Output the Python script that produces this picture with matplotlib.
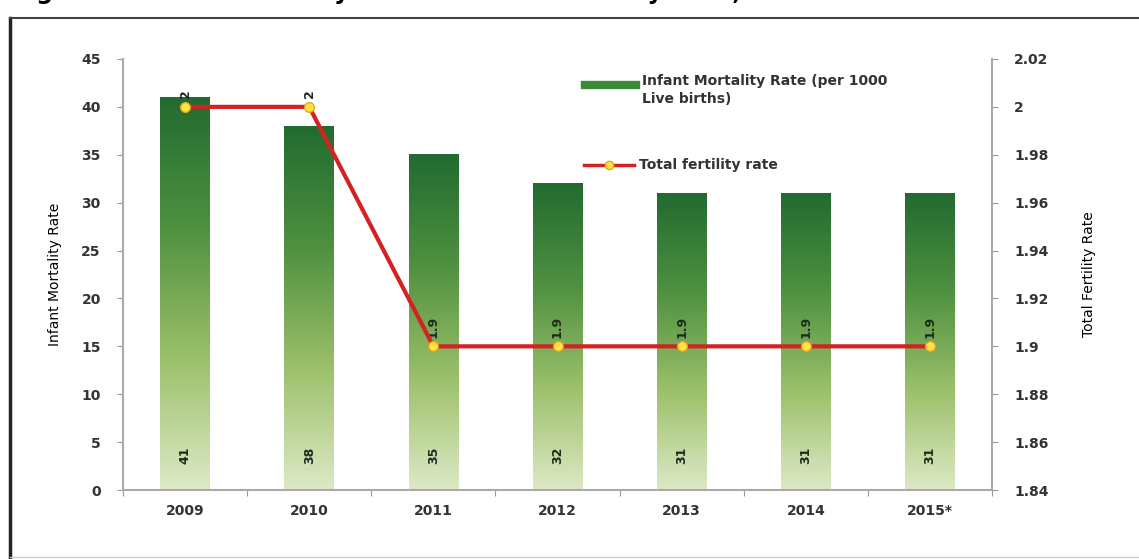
import matplotlib.pyplot as plt
import numpy as np
from matplotlib.colors import LinearSegmentedColormap
from matplotlib.lines import Line2D

# dane
years = ["2009", "2010", "2011", "2012", "2013", "2014", "2015*"]
imr = [41, 38, 35, 32, 31, 31, 31]
tfr = [2, 2, 1.9, 1.9, 1.9, 1.9, 1.9]
tfr_labels = ["2", "2", "1.9", "1.9", "1.9", "1.9", "1.9"]

fig = plt.figure(figsize=(11.39, 5.59), dpi=100)
ax = fig.add_axes([0.108, 0.1234, 0.763, 0.7711])

# gradient dla słupków
cmap = LinearSegmentedColormap.from_list("g", ["#dde9c6", "#9cc06a", "#4f9140", "#226b30"])
grad = np.linspace(0, 1, 256).reshape(-1, 1)
x = np.arange(len(years))
w = 0.4
for i, v in enumerate(imr):
    ax.imshow(grad, cmap=cmap, origin="lower", aspect="auto",
              extent=[x[i] - w / 2, x[i] + w / 2, 0, v], zorder=2)
    ax.text(x[i], 3.6, str(v), rotation=90, ha="center", va="center",
            fontsize=9, fontweight="bold", color="#1e2a1e", zorder=5)

ax.set_xlim(-0.5, len(years) - 0.5)
ax.set_ylim(0, 45)
ax.set_yticks(range(0, 46, 5))
ax.set_xticks(np.arange(-0.5, len(years), 1))
ax.set_xticklabels([])
ax.set_xticks(x, minor=True)
ax.set_xticklabels(years, minor=True, fontsize=10, fontweight="bold", color="#333333")
ax.tick_params(axis="x", which="minor", length=0, pad=10)
ax.tick_params(axis="x", which="major", length=4, color="#999999")
ax.tick_params(axis="y", length=4, color="#999999", labelsize=10, pad=12, labelcolor="#333333")
for t in ax.get_yticklabels():
    t.set_fontweight("bold")
ax.set_ylabel("Infant Mortality Rate", fontsize=10, labelpad=14)
for s in ["top", "right"]:
    ax.spines[s].set_visible(False)
for s in ["left", "bottom"]:
    ax.spines[s].set_color("#aaaaaa")
    ax.spines[s].set_linewidth(1.5)

# druga oś
ax2 = ax.twinx()
ax2.plot(x, tfr, color="#d42222", lw=3, marker="o", markersize=7,
         markerfacecolor="#ffe640", markeredgecolor="#f0a020", markeredgewidth=1, zorder=4)
for i, v in enumerate(tfr):
    ax2.text(x[i], v + 0.0035, tfr_labels[i], rotation=90, ha="center", va="bottom",
             fontsize=9, fontweight="bold", color="#1e2a1e")
ax2.set_ylim(1.84, 2.02)
ax2.set_yticks(np.round(np.arange(1.84, 2.021, 0.02), 2))
ax2.set_yticklabels(["1.84", "1.86", "1.88", "1.9", "1.92", "1.94", "1.96", "1.98", "2", "2.02"])
ax2.tick_params(axis="y", length=4, color="#999999", labelsize=10, pad=12, labelcolor="#333333")
for t in ax2.get_yticklabels():
    t.set_fontweight("bold")
ax2.set_ylabel("Total Fertility Rate", fontsize=10, labelpad=24)
for s in ["top", "left", "bottom"]:
    ax2.spines[s].set_visible(False)
ax2.spines["right"].set_color("#aaaaaa")
ax2.spines["right"].set_linewidth(1.5)

# legenda
ax2.add_line(Line2D([0.532, 0.590], [0.94, 0.94], transform=ax.transAxes, color="#3a8a3a", lw=6))
ax2.text(0.597, 0.965, "Infant Mortality Rate (per 1000\nLive births)", transform=ax.transAxes,
         va="top", ha="left", fontsize=10, fontweight="bold", color="#333333", linespacing=1.4)
ax2.add_line(Line2D([0.530, 0.588], [0.754, 0.754], transform=ax.transAxes, color="#d42222", lw=2.5))
ax2.add_line(Line2D([0.559], [0.754], transform=ax.transAxes, marker="o", markersize=6,
                    markerfacecolor="#ffe640", markeredgecolor="#f0a020"))
ax2.text(0.594, 0.754, "Total fertility rate", transform=ax.transAxes, va="center", ha="left",
         fontsize=10, fontweight="bold", color="#333333")

# ramka i ucięty tytuł (w oryginale widać tylko dolne części liter)
fig.add_artist(Line2D([10 / 1139, 10 / 1139], [0, 1 - 18 / 559], transform=fig.transFigure, color="#222222", lw=2.5))
fig.add_artist(Line2D([10 / 1139, 1], [1 - 18 / 559, 1 - 18 / 559], transform=fig.transFigure, color="#444444", lw=1.5))
fig.add_artist(Line2D([10 / 1139, 1], [2 / 559, 2 / 559], transform=fig.transFigure, color="#cccccc", lw=1))
fig.text(12 / 1139, 1 + 1 / 559, "Figure 1: Infant Mortality Rate and Total Fertility Rate, 2009-2015",
         fontsize=17, fontweight="bold", va="baseline", ha="left")

fig.savefig("out.png", dpi=100)
